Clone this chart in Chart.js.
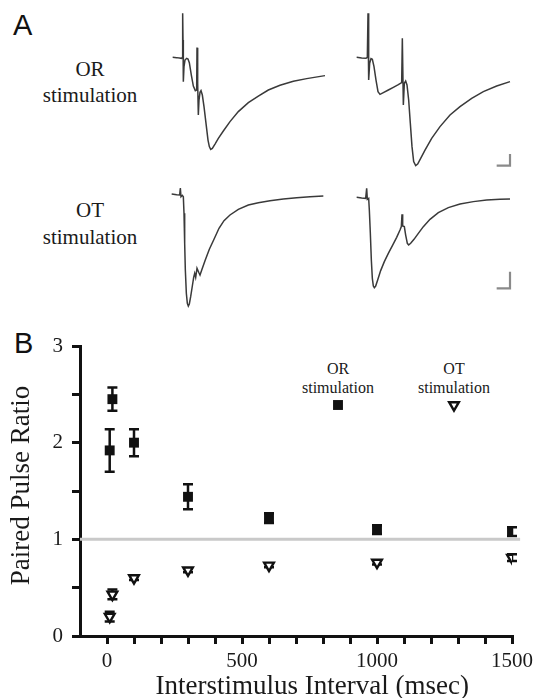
<!DOCTYPE html>
<html>
<head>
<meta charset="utf-8">
<script src="https://cdn.jsdelivr.net/npm/chart.js@4.4.0/dist/chart.umd.min.js"></script>
<style>
html,body{margin:0;padding:0;background:#fff;width:538px;height:698px;overflow:hidden;position:relative}
.t{position:absolute;transform:translate(-50%,-50%);line-height:1;white-space:nowrap;color:#1a1a1a;font-family:"Liberation Serif","Times New Roman",serif}
.letter{position:absolute;line-height:1;font-family:"Liberation Sans",Arial,sans-serif;font-size:29px;color:#111}
canvas{position:absolute}
</style>
</head>
<body>
<div class="letter" style="left:13px;top:11px">A</div>
<div class="letter" style="left:14px;top:329px">B</div>
<div class="t" style="left:90px;top:69px;font-size:21px">OR</div>
<div class="t" style="left:90px;top:94.5px;font-size:21px">stimulation</div>
<div class="t" style="left:90px;top:210px;font-size:21px">OT</div>
<div class="t" style="left:90px;top:236.5px;font-size:21px">stimulation</div>
<div class="t" style="left:338px;top:369px;font-size:16px">OR</div>
<div class="t" style="left:338px;top:388px;font-size:16px">stimulation</div>
<div class="t" style="left:454px;top:369px;font-size:16px">OT</div>
<div class="t" style="left:454px;top:388px;font-size:16px">stimulation</div>

<canvas id="tr1"></canvas>
<canvas id="tr2"></canvas>
<canvas id="tr3"></canvas>
<canvas id="tr4"></canvas>
<canvas id="ppr"></canvas>

<script>
// ---------- Panel B data ----------
const isi = [10, 20, 100, 300, 600, 1000, 1500];           // ms
const orMean = [1.92, 2.45, 2.00, 1.44, 1.22, 1.10, 1.08];
const orErr  = [0.22, 0.12, 0.14, 0.13, 0.05, 0.045, 0.045];
const otMean = [0.20, 0.43, 0.60, 0.68, 0.73, 0.76, 0.81];
const otErr  = [0.05, 0.05, 0.02, 0.02, 0.02, 0.02, 0.035];
const refLineX = [-100, 1530];
const refLineY = [1.0, 1.0];
const xTickLabels = [0, 500, 1000, 1500];
const yTickLabels = [0, 1, 2, 3];

// ---------- Panel A traces (time ms, current pA) ----------
const orTrace1T = [0,3,6.75,7.25,7.5,7.75,8,8.5,9.25,10.5,11.5,12.5,14,15.5,17,18,18.25,18.75,19.25,19.75,20.5,21.25,22.25,23.5,25,26.5,27.5,28.5,29.75,31.75,34.25,38,43,49.25,56.75,64.25,71.75,80.5,90.5,100.5,114.25];
const orTrace1A = [0,-3,-10,0,440,173,-243,-93,-27,-10,-17,-53,-177,-287,-333,-327,97,-260,-577,-427,-350,-333,-377,-493,-660,-827,-893,-920,-910,-867,-810,-737,-643,-543,-453,-387,-327,-280,-240,-213,-183];
const orTrace2T = [0,3.75,7,8,8.5,9,9.75,10.75,11.75,13,14.5,16,17.5,20,23.75,27.5,31.25,33.75,34.25,35,35.75,36.75,37.75,39,40.25,41.5,42.75,44.25,45.75,48,51.25,56.25,62.5,70,77.5,86.25,95,105,115];
const orTrace2A = [0,-7,-10,0,440,-227,-60,-13,-20,-93,-227,-343,-370,-353,-327,-300,-273,-253,190,-477,-260,-237,-277,-427,-660,-893,-1043,-1083,-1067,-1010,-927,-810,-693,-577,-493,-410,-343,-287,-243];
const otTrace1T = [0,3.75,6,6.5,7,8,8.75,9.25,9.75,10.25,11,11.75,12.5,13.25,14.25,15.5,16.5,17.25,18,19,20.25,21.25,22.75,25,28.25,31.75,35.5,39.25,43.75,50,57.5,65,73.75,83.75,93.75,103.75,113.75];
const otTrace1A = [0,-7,-10,60,-27,-13,-27,-193,-493,-760,-993,-1093,-1120,-1100,-1027,-920,-833,-793,-833,-743,-783,-810,-753,-667,-553,-453,-343,-267,-210,-153,-110,-87,-67,-50,-37,-27,-20];
const otTrace2T = [0,3.75,6.75,7.5,8,9,9.5,10.25,11,11.75,12.5,13.25,14.25,15.75,18,20.75,23.75,27,30,32.5,33.5,34,34.5,35.75,36.75,38,39,40.5,43,46.25,50,55,61.25,68.75,77.5,87.5,97.5,107.5,115];
const otTrace2A = [0,-7,-10,90,-20,-10,-127,-360,-627,-810,-887,-903,-887,-827,-733,-643,-560,-477,-400,-327,-293,-170,-287,-293,-377,-460,-477,-460,-420,-360,-293,-220,-153,-103,-67,-43,-27,-20,-17];
// scale bars: 10 ms horizontal, vertical in pA
const orBarT = [105, 115, 115];
const orBarA = [-1083, -1083, -967];
const otBarT = [105, 115, 115];
const otBarA = [-910, -910, -743];

Chart.defaults.font.family = "'Liberation Serif','Times New Roman',serif";
Chart.defaults.color = '#1a1a1a';
Chart.defaults.borderColor = '#111111';

const zip = (xs, ys) => xs.map((x, i) => ({x, y: ys[i]}));

// ---------- trace charts ----------
const MS_PER_PX = 0.75, PA_PER_PX = 10;
function traceChart(id, rect, origin, t, a, bar) {
  const c = document.getElementById(id);
  c.width = rect.w; c.height = rect.h;
  c.style.left = rect.l + 'px'; c.style.top = rect.t + 'px';
  c.style.width = rect.w + 'px'; c.style.height = rect.h + 'px';
  const xmin = (rect.l - origin.x) * MS_PER_PX;
  const xmax = (rect.l + rect.w - origin.x) * MS_PER_PX;
  const ymax = (origin.y - rect.t) * PA_PER_PX;
  const ymin = (origin.y - rect.t - rect.h) * PA_PER_PX;
  const datasets = [{
    data: zip(t, a), showLine: true, borderColor: '#3a3a3a', borderWidth: 1.5,
    pointRadius: 0, tension: 0, clip: false
  }];
  if (bar) datasets.push({
    data: zip(bar.t, bar.a), showLine: true, borderColor: '#8a8a8a', borderWidth: 2.2,
    pointRadius: 0, tension: 0, borderCapStyle: 'butt', borderJoinStyle: 'miter', clip: false
  });
  new Chart(c, {
    type: 'scatter',
    data: {datasets},
    options: {
      responsive: false, animation: false, devicePixelRatio: 1,
      layout: {padding: 0},
      plugins: {legend: {display: false}, tooltip: {enabled: false}},
      scales: {
        x: {type: 'linear', display: false, min: xmin, max: xmax},
        y: {type: 'linear', display: false, min: ymin, max: ymax}
      }
    }
  });
}
traceChart('tr1', {l:165, t:5, w:185, h:170}, {x:172.67, y:57.33}, orTrace1T, orTrace1A);
traceChart('tr2', {l:350, t:5, w:185, h:170}, {x:356.67, y:57.33}, orTrace2T, orTrace2A, {t: orBarT, a: orBarA});
traceChart('tr3', {l:165, t:175, w:185, h:150}, {x:171.67, y:194}, otTrace1T, otTrace1A);
traceChart('tr4', {l:350, t:175, w:185, h:150}, {x:356.67, y:197.33}, otTrace2T, otTrace2A, {t: otBarT, a: otBarA});

// ---------- Panel B ----------
const errorBars = {
  id: 'errorBars',
  beforeDatasetsDraw(chart) {
    const {ctx, scales: {x, y}} = chart;
    chart.data.datasets.forEach(ds => {
      if (!ds.errors) return;
      ctx.save();
      ctx.strokeStyle = '#111'; ctx.lineWidth = 2.5; ctx.lineCap = 'butt';
      ds.data.forEach((p, i) => {
        const e = ds.errors[i];
        const px = x.getPixelForValue(p.x);
        const top = y.getPixelForValue(p.y + e), bot = y.getPixelForValue(p.y - e);
        ctx.beginPath();
        ctx.moveTo(px, top); ctx.lineTo(px, bot);
        ctx.moveTo(px - 5, top); ctx.lineTo(px + 5, top);
        ctx.moveTo(px - 5, bot); ctx.lineTo(px + 5, bot);
        ctx.stroke();
      });
      ctx.restore();
    });
  }
};
const legendMarks = {
  id: 'legendMarks',
  afterDatasetsDraw(chart) {
    const ctx = chart.ctx;
    const ds = chart.data.datasets;
    const spots = [[0, 338, 105], [1, 454, 105]];
    spots.forEach(([i, lx, ly]) => {
      const d = ds[i];
      ctx.save();
      ctx.fillStyle = d.backgroundColor; ctx.strokeStyle = d.borderColor; ctx.lineWidth = d.borderWidth;
      Chart.helpers.drawPoint(ctx, {pointStyle: d.pointStyle, radius: d.pointRadius, rotation: d.pointRotation || 0, borderWidth: d.borderWidth}, lx, ly);
      ctx.restore();
    });
  }
};

const pc = document.getElementById('ppr');
pc.width = 538; pc.height = 400;
pc.style.left = '0px'; pc.style.top = '300px';
pc.style.width = '538px'; pc.style.height = '400px';

const axisInk = '#111111';
new Chart(pc, {
  type: 'scatter',
  data: {
    datasets: [
      {label: 'OR stimulation', data: zip(isi, orMean), errors: orErr, pointStyle: 'rect', pointRadius: 7,
       backgroundColor: '#111', borderColor: '#111', borderWidth: 0},
      {label: 'OT stimulation', data: zip(isi, otMean), errors: otErr, pointStyle: 'triangle', pointRotation: 180,
       pointRadius: 5.6, backgroundColor: '#fff', borderColor: '#111', borderWidth: 2.4},
      {label: 'ratio 1', data: zip(refLineX, refLineY), showLine: true, pointRadius: 0,
       borderColor: '#c9c9c9', borderWidth: 3, clip: false}
    ]
  },
  options: {
    responsive: false, animation: false, devicePixelRatio: 1,
    layout: {padding: {left: 0, right: 26, top: 46, bottom: 0}},
    plugins: {legend: {display: false}, tooltip: {enabled: false}},
    scales: {
      x: {
        type: 'linear', min: -100, max: 1500,
        afterFit(s) { s.height = 64; },
        border: {display: true, color: axisInk, width: 3},
        grid: {display: true, drawOnChartArea: false, drawTicks: true, tickLength: 8, tickWidth: 3,
               color: axisInk, lineWidth: 3,
               tickColor: c => (c.tick && c.tick.value < 0) ? 'rgba(0,0,0,0)' : axisInk},
        ticks: {stepSize: 100, autoSkip: false, maxRotation: 0, padding: 5, color: '#1a1a1a',
                font: {size: 21},
                callback: v => xTickLabels.includes(v) ? String(v) : ''},
        title: {display: true, text: '\u2003\u2009Interstimulus Interval (msec)', color: '#1a1a1a',
                font: {size: 27, lineHeight: 1}, padding: {top: 0, bottom: 0}}
      },
      y: {
        type: 'linear', min: 0, max: 3,
        afterFit(s) { s.width = 80; },
        border: {display: true, color: axisInk, width: 3},
        grid: {display: true, drawOnChartArea: false, drawTicks: true, tickLength: 8, tickWidth: 3,
               color: axisInk, lineWidth: 3, tickColor: axisInk},
        ticks: {stepSize: 0.5, autoSkip: false, padding: 9, color: '#1a1a1a', font: {size: 21},
                callback: v => yTickLabels.includes(v) ? String(v) : ''},
        title: {display: true, text: '\u2009\u2009Paired Pulse Ratio', color: '#1a1a1a',
                font: {size: 27, lineHeight: 1}, padding: {top: 8, bottom: 0}}
      }
    }
  },
  plugins: [errorBars, legendMarks]
});
</script>
</body>
</html>
